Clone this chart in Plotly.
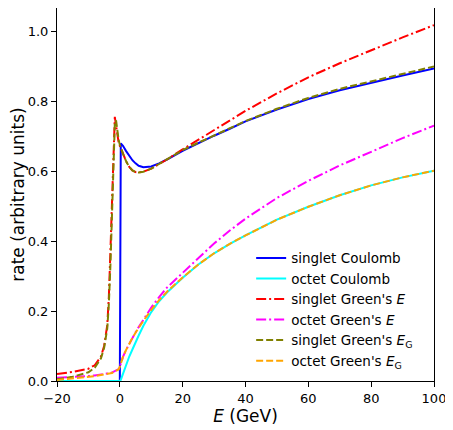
import plotly.graph_objects as go

# energy grid (GeV)
E = [-20, -15, -10, -8, -6, -5, -4, -3.5, -3, -2.5, -2, -1.6, -1.2, -0.8, -0.4,
     0, 0.3, 1, 2, 3, 4, 5, 6, 7.5, 10, 12.5, 15, 20, 25, 30, 35, 40,
     50, 60, 70, 80, 90, 100]

singlet_coulomb = [0, 0, 0, 0, 0, 0, 0, 0, 0, 0, 0, 0, 0, 0, 0,
                   0, 0.679, 0.672, 0.657, 0.643, 0.631, 0.622, 0.615, 0.611, 0.613, 0.622, 0.633,
                   0.658, 0.680, 0.701, 0.721, 0.742, 0.776, 0.806, 0.831, 0.853, 0.873, 0.893]

octet_coulomb = [0, 0, 0, 0, 0, 0, 0, 0, 0, 0, 0, 0, 0, 0, 0,
                 0, 0.003, 0.020, 0.048, 0.070, 0.090, 0.111, 0.130, 0.158, 0.197, 0.228, 0.253,
                 0.295, 0.333, 0.365, 0.392, 0.416, 0.461, 0.498, 0.531, 0.559, 0.582, 0.601]

singlet_green_E = [0.020, 0.026, 0.035, 0.045, 0.070, 0.100, 0.160, 0.240, 0.370, 0.530, 0.700,
                   0.755, 0.730, 0.700, 0.683,
                   0.672, 0.665, 0.650, 0.628, 0.612, 0.602, 0.597, 0.596, 0.598, 0.607, 0.620, 0.633,
                   0.662, 0.690, 0.718, 0.745, 0.772, 0.822, 0.868, 0.908, 0.946, 0.982, 1.017]

octet_green_E = [0.0095, 0.011, 0.014, 0.016, 0.018, 0.019, 0.021, 0.022, 0.023, 0.024, 0.026,
                 0.027, 0.029, 0.031, 0.034,
                 0.041, 0.052, 0.069, 0.089, 0.107, 0.123, 0.139, 0.154, 0.176, 0.210, 0.240, 0.267,
                 0.309, 0.352, 0.393, 0.430, 0.464, 0.523, 0.572, 0.616, 0.656, 0.694, 0.730]

singlet_green_EG = [0.005, 0.012, 0.025, 0.038, 0.065, 0.095, 0.150, 0.220, 0.330, 0.480, 0.650,
                    0.735, 0.745, 0.710, 0.690,
                    0.675, 0.666, 0.650, 0.628, 0.612, 0.602, 0.597, 0.596, 0.598, 0.607, 0.620, 0.633,
                    0.660, 0.681, 0.702, 0.722, 0.743, 0.778, 0.809, 0.835, 0.857, 0.878, 0.899]

octet_green_EG = [0.003, 0.007, 0.012, 0.014, 0.017, 0.018, 0.020, 0.021, 0.022, 0.023, 0.025,
                  0.026, 0.028, 0.030, 0.033,
                  0.041, 0.052, 0.069, 0.089, 0.107, 0.123, 0.138, 0.152, 0.172, 0.203, 0.231, 0.255,
                  0.296, 0.333, 0.365, 0.392, 0.416, 0.461, 0.498, 0.531, 0.559, 0.582, 0.601]

DASHDOT = "10px,3px,2px,3px"
DASHED = "7px,3px"

series = [
    ("singlet Coulomb", singlet_coulomb, "#0000ff", "solid"),
    ("octet Coulomb", octet_coulomb, "#00ffff", "solid"),
    ("singlet Green's <i>E</i>", singlet_green_E, "#ff0000", DASHDOT),
    ("octet Green's <i>E</i>", octet_green_E, "#ff00ff", DASHDOT),
    ("singlet Green's <i>E</i><sub>G</sub>", singlet_green_EG, "#808000", DASHED),
    ("octet Green's <i>E</i><sub>G</sub>", octet_green_EG, "#ffa500", DASHED),
]

fig = go.Figure()
for name, y, color, dash in series:
    fig.add_trace(go.Scatter(x=E, y=y, mode="lines", name=name,
                             line=dict(color=color, dash=dash, width=2)))

axis_style = dict(showline=True, linecolor="black", linewidth=1, mirror=True,
                  ticks="outside", ticklen=5, tickcolor="black", showgrid=False,
                  zeroline=False, tickfont=dict(size=13, color="black"))

# page body has an 8px margin, so the figure is made 8px smaller and margins shifted
fig.update_layout(
    width=445, height=422,
    margin=dict(l=49, r=19, t=0, b=49),
    paper_bgcolor="white", plot_bgcolor="white",
    font=dict(family="DejaVu Sans", size=14, color="black"),
    xaxis=dict(range=[-20, 100], tickvals=[-20, 0, 20, 40, 60, 80, 100],
               title=dict(text="<i>E</i> (GeV)", standoff=0), **axis_style),
    yaxis=dict(range=[0, 1.066], tickvals=[0, 0.2, 0.4, 0.6, 0.8, 1.0], tickformat=".1f",
               title=dict(text="rate (arbitrary units)", standoff=0), **axis_style),
    legend=dict(x=0.515, y=0.371, xanchor="left", yanchor="top", bgcolor="rgba(0,0,0,0)",
                font=dict(size=13.5)),
    showlegend=True,
)

fig.write_html("out.html")
